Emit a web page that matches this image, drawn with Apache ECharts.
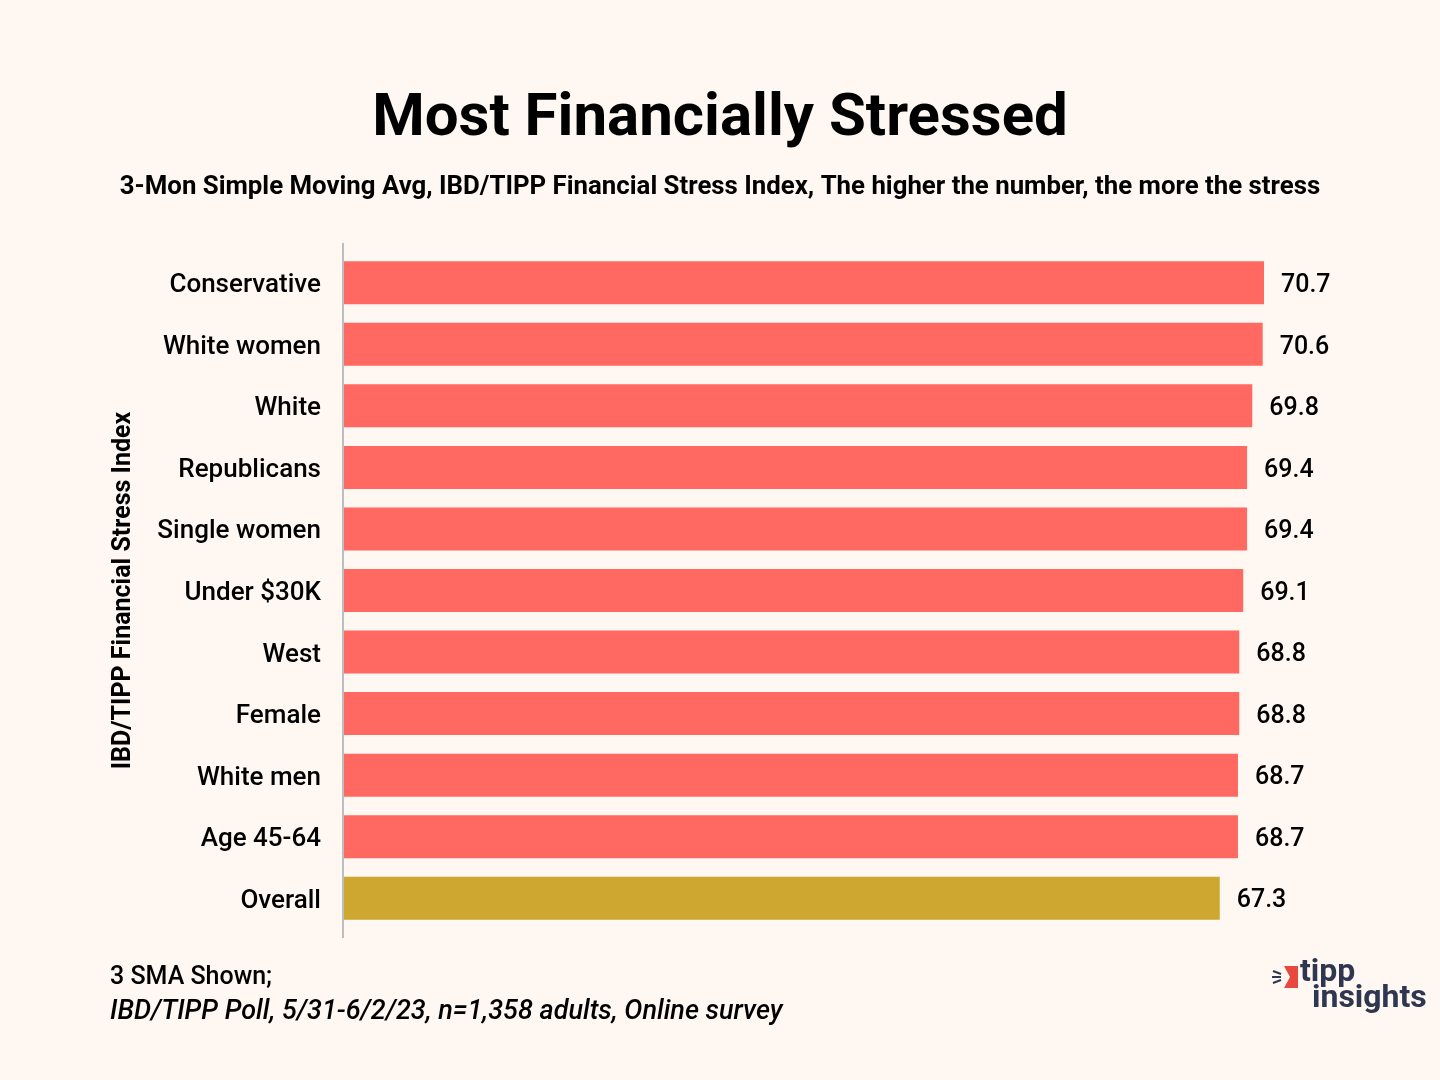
<!DOCTYPE html>
<html>
<head>
<meta charset="utf-8">
<script src="https://cdn.jsdelivr.net/npm/echarts@6/dist/echarts.min.js"></script>
<style>
html,body{margin:0;padding:0;background:#FEF7F2;}
#c{width:1440px;height:1080px;}
</style>
</head>
<body>
<div id="c"></div>
<script>
const categories = ["Conservative","White women","White","Republicans","Single women","Under $30K","West","Female","White men","Age 45-64","Overall"];
const values = [70.7,70.6,69.8,69.4,69.4,69.1,68.8,68.8,68.7,68.7,67.3];
const highlight = ["Overall"];

const RED = '#FF6961';
const GOLD = '#CDA72F';
const FONT = 'Roboto';

const chart = echarts.init(document.getElementById('c'));
chart.setOption({
  backgroundColor: '#FEF7F2',
  animation: false,
  title: [
    {text: 'Most Financially Stressed', left: 'center', top: 85,
     textStyle: {fontFamily: FONT, fontWeight: 'bold', fontSize: 60, color: '#000'}},
    {text: '3-Mon Simple Moving Avg, IBD/TIPP Financial Stress Index, The higher the number, the more the stress', left: 'center', top: 170,
     textStyle: {fontFamily: FONT, fontWeight: 'bold', fontSize: 25.8, color: '#000'}}
  ],
  grid: {left: 344, right: 176, top: 252, bottom: 151, containLabel: false},
  xAxis: {type: 'value', min: 0, max: 'dataMax', show: false},
  yAxis: {
    type: 'category', data: categories, inverse: true,
    name: 'IBD/TIPP Financial Stress Index', nameLocation: 'middle', nameGap: 208,
    nameTextStyle: {fontFamily: FONT, fontWeight: 'bold', fontSize: 25, color: '#000'},
    axisLine: {show: false}, axisTick: {show: false},
    axisLabel: {margin: 23, fontFamily: FONT, fontWeight: 500, fontSize: 26, color: '#000',
      formatter: v => '{a|' + v + '}',
      rich: {a: {fontFamily: FONT, fontWeight: 500, fontSize: 26, color: '#000', padding: [6, 0, 0, 0]}}}
  },
  series: [{
    type: 'bar', barWidth: 43,
    data: values.map((v, i) => ({value: v, itemStyle: {color: highlight.includes(categories[i]) ? GOLD : RED}})),
    label: {show: true, position: 'right', distance: 17, offset: [0, 3], fontFamily: FONT, fontWeight: 500, fontSize: 25, color: '#000',
      formatter: p => p.value.toFixed(1)}
  }],
  graphic: [
    {type: 'line', shape: {x1: 343, y1: 243, x2: 343, y2: 938}, style: {stroke: '#BDBDBD', lineWidth: 2}},
    {type: 'text', left: 110, top: 965, style: {text: '3 SMA Shown;', font: '500 25px Roboto', fill: '#000'}},
    {type: 'text', left: 110, top: 999, style: {text: 'IBD/TIPP Poll, 5/31-6/2/23, n=1,358 adults, Online survey', font: 'italic 500 27px Roboto', fill: '#000'}},
    {type: 'polygon', shape: {points: [[1284,966],[1298,966],[1298,988],[1284,988],[1290,977]]}, style: {fill: '#E8493F'}},
    {type: 'line', shape: {x1: 1273, y1: 971, x2: 1281, y2: 974}, style: {stroke: '#2F3650', lineWidth: 2}},
    {type: 'line', shape: {x1: 1272, y1: 977, x2: 1281, y2: 977}, style: {stroke: '#2F3650', lineWidth: 2}},
    {type: 'line', shape: {x1: 1273, y1: 983, x2: 1281, y2: 980}, style: {stroke: '#2F3650', lineWidth: 2}},
    {type: 'text', left: 1300, top: 957, style: {text: 'tipp', font: 'bold 32px Roboto', fill: '#2F3650'}},
    {type: 'text', left: 1312, top: 983, style: {text: 'insights', font: 'bold 32px Roboto', fill: '#2F3650'}}
  ]
});
</script>
</body>
</html>
